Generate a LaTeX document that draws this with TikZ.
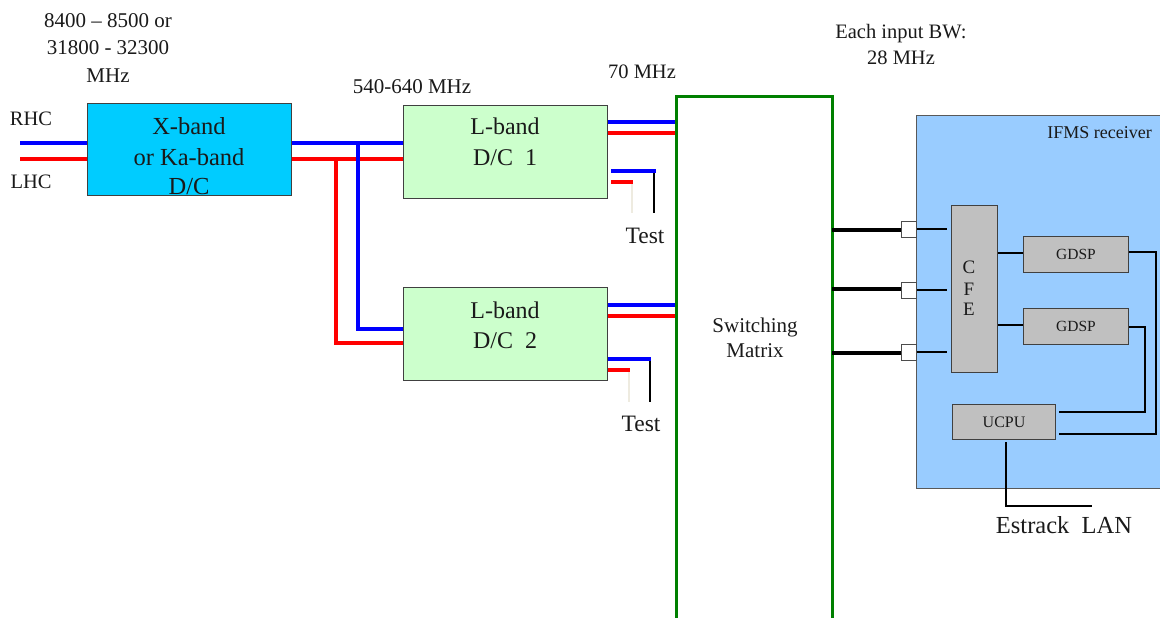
\documentclass[tikz,border=0pt]{standalone}
\usepackage{fontspec}
\setmainfont{Liberation Serif}
\newcommand\myfs[2]{\fontsize{#1}{#2}\selectfont}
\definecolor{xcyan}{HTML}{00CCFF}
\definecolor{lgreen}{HTML}{CCFFCC}
\definecolor{ifmsblue}{HTML}{99CCFF}
\definecolor{boxgray}{HTML}{C0C0C0}
\definecolor{smgreen}{HTML}{008000}
\definecolor{pale}{HTML}{EEEBE0}
\definecolor{bordergray}{HTML}{404040}
\definecolor{txtc}{HTML}{1A1A1A}
\begin{document}
\begin{tikzpicture}[x=1pt,y=-1pt,
  box/.style={draw=bordergray, line width=1.3pt, inner sep=0pt, anchor=north west},
  gbox/.style={box, fill=boxgray, line width=1.1pt},
  port/.style={draw=black!70, fill=white, line width=0.9pt, inner sep=0pt, anchor=north west, minimum width=15pt, minimum height=16pt},
  txt/.style={anchor=base, inner sep=0pt, text=txtc},
  bsig/.style={draw=blue, line width=3.6pt},
  rsig/.style={draw=red, line width=3.6pt},
  thick bk/.style={draw=black, line width=3.4pt},
  thin bk/.style={draw=black, line width=1.6pt},
  mid bk/.style={draw=black, line width=2.2pt},
  fine bk/.style={draw=black, line width=1.2pt},
  smline/.style={draw=smgreen, line width=3pt}
]
\useasboundingbox (0,0) rectangle (1160,618);

% ---------- top labels ----------
\node[txt, font=\myfs{21}{27}] (f1) at (108,28) {8400 -- 8500 or};
\node[txt, font=\myfs{21}{27}] (f2) at (108,55) {31800 - 32300};
\node[txt, font=\myfs{21}{27}] (f3) at (108,82) {MHz};
\node[txt, font=\myfs{21}{27}] (f4) at (412,93) {540-640 MHz};
\node[txt, font=\myfs{20.5}{27}] (f5) at (642,78) {70 MHz};
\node[txt, font=\myfs{20.5}{26}] (f6) at (901,39) {Each input BW:};
\node[txt, font=\myfs{20.5}{26}] (f7) at (901,65) {28 MHz};

% ---------- X-band D/C ----------
\node[box, fill=xcyan, minimum width=204pt, minimum height=92pt] (xb) at (87,103) {};
\node[txt, font=\myfs{24.5}{30}] (xt1) at (189,135) {X-band};
\node[txt, font=\myfs{24.5}{30}] (xt2) at (189,165) {or Ka-band};
\node[txt, font=\myfs{24.5}{30}] (xt3) at (189,194) {D/C};

\node[txt, font=\myfs{20.5}{25}] (rhc) at (31,125) {RHC};
\node[txt, font=\myfs{20.5}{25}] (lhc) at (31,188) {LHC};

\coordinate (rin) at (20,143);
\coordinate (lin) at (20,159);
\draw[bsig] (rin) -- (rin -| xb.west);
\draw[rsig] (lin) -- (lin -| xb.west);

% ---------- L-band D/Cs ----------
\node[box, fill=lgreen, minimum width=204pt, minimum height=93pt] (l1) at (403,105) {};
\node[txt, font=\myfs{24}{30}] (l1t1) at (505,135) {L-band};
\node[txt, font=\myfs{24}{30}] (l1t2) at (505,165) {D/C\ \ 1};
\node[box, fill=lgreen, minimum width=204pt, minimum height=93pt] (l2) at (403,287) {};
\node[txt, font=\myfs{24}{30}] (l2t1) at (505,318) {L-band};
\node[txt, font=\myfs{24}{30}] (l2t2) at (505,348) {D/C\ \ 2};

% bus from X-band to L-band 1 and 2
\coordinate (rb) at (336,159);
\coordinate (bb) at (358,143);
\draw[rsig] (xb.east |- rb) -- (l1.west |- rb);
\draw[rsig] (rb) -- (336,343) -- (l2.west |- 0,343);
\draw[bsig] (xb.east |- bb) -- (l1.west |- bb);
\draw[bsig] (bb) -- (358,329) -- (l2.west |- 0,329);

% ---------- Switching matrix ----------
\coordinate (smbl) at (676,618);
\coordinate (smtl) at (676,97);
\coordinate (smtr) at (832,97);
\coordinate (smbr) at (832,618);
\node[txt, font=\myfs{21}{25}] (smt1) at (755,332) {Switching};
\node[txt, font=\myfs{21}{25}] (smt2) at (755,357) {Matrix};

% L-band 1 outputs
\draw[bsig] (l1.east |- 0,122) -- (smtl |- 0,122);
\draw[rsig] (l1.east |- 0,133) -- (smtl |- 0,133);
\coordinate (t1b) at (654,213);
\coordinate (t1r) at (632,213);
\draw[draw=pale, line width=1.6pt] (632,181) -- (t1r);
\draw[thin bk] (654,171) -- (t1b);
\draw[bsig] (611,171) -- (655.5,171);
\draw[rsig] (611,182) -- (633,182);
\node[txt, font=\myfs{23.5}{28}] (test1) at (645,243) {Test};

% L-band 2 outputs
\draw[bsig] (l2.east |- 0,305) -- (smtl |- 0,305);
\draw[rsig] (l2.east |- 0,316) -- (smtl |- 0,316);
\coordinate (t2b) at (650,402);
\coordinate (t2r) at (629,402);
\draw[draw=pale, line width=1.6pt] (629,369) -- (t2r);
\draw[thin bk] (650,359) -- (t2b);
\draw[bsig] (l2.east |- 0,359) -- (651,359);
\draw[rsig] (l2.east |- 0,370) -- (630,370);
\node[txt, font=\myfs{23.5}{28}] (test2) at (641,431) {Test};

\draw[smline] (smbl) -- (smtl) -- (smtr) -- (smbr);

% ---------- IFMS receiver ----------
\node[box, fill=ifmsblue, draw=black!65, line width=1.3pt, minimum width=246pt, minimum height=373pt] (ifms) at (916,115) {};
\node[txt, font=\myfs{18}{22}, anchor=base east] (ifmst) at (1152,138) {IFMS receiver};

\node[gbox, minimum width=46pt, minimum height=167pt] (cfe) at (951,205) {};
\node[txt, font=\myfs{19}{21}] (cfe1) at (969,273) {C};
\node[txt, font=\myfs{19}{21}] (cfe2) at (969,295) {F};
\node[txt, font=\myfs{19}{21}] (cfe3) at (969,315) {E};

\node[gbox, minimum width=105pt, minimum height=36pt, font=\myfs{15.5}{18}, text=txtc] (g1) at (1023,236) {GDSP};
\node[gbox, minimum width=105pt, minimum height=36pt, font=\myfs{15.5}{18}, text=txtc] (g2) at (1023,308) {GDSP};
\node[gbox, minimum width=103pt, minimum height=35pt, font=\myfs{16}{18}, text=txtc] (ucpu) at (952,404) {UCPU};

% ports and input lines
\node[port] (p1) at (901,221) {};
\node[port] (p2) at (901,282) {};
\node[port] (p3) at (901,344) {};
\draw[thick bk] (smtr |- 0,230) -- (p1.west |- 0,230);
\draw[thick bk] (smtr |- 0,289) -- (p2.west |- 0,289);
\draw[thick bk] (smtr |- 0,353) -- (p3.west |- 0,353);
\draw[thin bk] (p1.east |- 0,229) -- (947,229);
\draw[thin bk] (p2.east |- 0,290) -- (947,290);
\draw[thin bk] (p3.east |- 0,352) -- (947,352);

% CFE to GDSPs
\draw[fine bk] (cfe.east |- 0,253) -- (g1.west |- 0,253);
\draw[mid bk] (cfe.east |- 0,325) -- (g2.west |- 0,325);

% GDSP to UCPU
\draw[mid bk] (g1.east |- 0,252) -- (1156,252) -- (1156,434) -- (1059,434);
\draw[fine bk] (g2.east |- 0,327) -- (1145,327) -- (1145,412) -- (1059,412);

% UCPU to LAN
\coordinate (lan) at (1092,506);
\draw[mid bk] (1006,442) -- (1006,506) -- (lan);
\node[txt, font=\myfs{24.5}{28}] (lant) at (1064,533) {Estrack\ \ LAN};
\end{tikzpicture}
\end{document}
